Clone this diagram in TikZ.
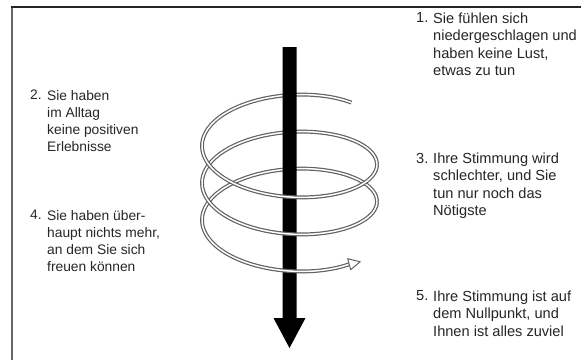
\documentclass[tikz,border=0pt]{standalone}
\usepackage{fontspec}
\setmainfont{Liberation Sans}
\begin{document}
\begin{tikzpicture}[x=1pt,y=-1pt,
  coil/.style={draw=black!62, line width=1.2pt, double=white, double distance=1.5pt},
  lbl/.style={anchor=north west, inner sep=0pt, align=left, text=black!85},
  lefttxt/.style={lbl, font=\fontsize{13.8}{17}\selectfont},
  righttxt/.style={lbl, font=\fontsize{14.6}{17.5}\selectfont}]
\useasboundingbox[fill=white] (0,0) rectangle (581,360);
\draw[line width=1.4pt, draw=black!60] (12,360) -- (12,7);
\draw[line width=1.3pt, draw=black!85] (11.3,7) -- (581,7);
% back halves of the coil
\foreach \a/\b in {45/180,360/540,720/900}
  \draw[coil] plot[domain=\a:\b, samples=40, variable=\t]
    ({289.5+87.5*cos(\t)},{127.5+0.1028*\t-41.75*sin(\t)});
% shaft arrow
\fill[black] (282.5,47) -- (296.5,47) -- (296.5,318) -- (305.5,318) -- (289.5,348)
  -- (273.5,318) -- (282.5,318) -- cycle;
% front halves of the coil
\foreach \a/\b in {180/360,540/720,900/1033}
  \draw[coil] plot[domain=\a:\b, samples=40, variable=\t]
    ({289.5+87.5*cos(\t)},{127.5+0.1028*\t-41.75*sin(\t)});
\coordinate (e) at ({289.5+87.5*cos(1033)},{127.5+0.1028*1033-41.75*sin(1033)});
\draw[draw=black!62, fill=white, line width=1pt, line join=round]
  ([shift={(-1.5,-5.5)}]e) -- ([shift={(11,-2.5)}]e) -- ([shift={(1.5,5.5)}]e) -- cycle;
% texts
\node[lefttxt] (n2) at (30,90) {2.};
\node[lefttxt] (t2) at (47,90) {Sie haben\\im Alltag\\keine positiven\\Erlebnisse};
\node[lefttxt] (n4) at (30,210) {4.};
\node[lefttxt] (t4) at (47,210) {Sie haben über-\\haupt nichts mehr,\\an dem Sie sich\\freuen können};
\node[righttxt] (n1) at (416,12.6) {1.};
\node[righttxt] (t1) at (433,12.6) {Sie fühlen sich\\niedergeschlagen und\\haben keine Lust,\\etwas zu tun};
\node[righttxt] (n3) at (416,152.6) {3.};
\node[righttxt] (t3) at (433,152.6) {Ihre Stimmung wird\\schlechter, und Sie\\tun nur noch das\\Nötigste};
\node[righttxt] (n5) at (416,290.6) {5.};
\node[righttxt] (t5) at (433,290.6) {Ihre Stimmung ist auf\\dem Nullpunkt, und\\Ihnen ist alles zuviel};
\end{tikzpicture}
\end{document}
